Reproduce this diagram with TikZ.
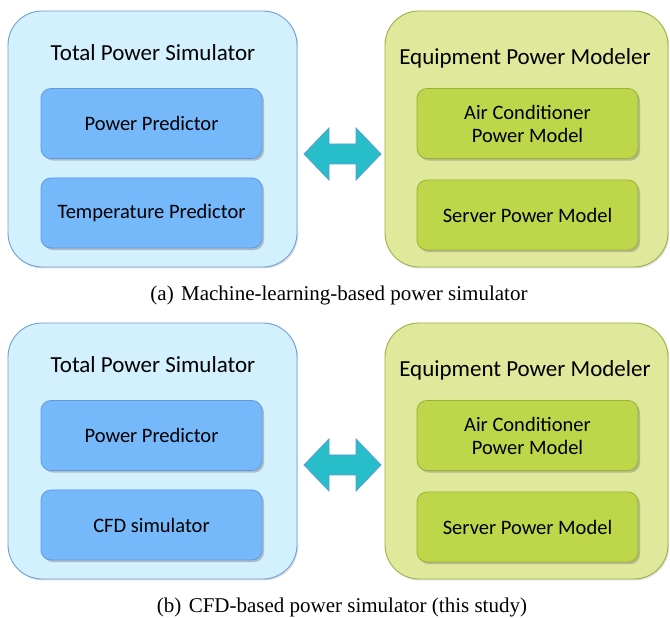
\documentclass[tikz,border=0pt]{standalone}
\usepackage{fontspec}
\setmainfont{Liberation Serif}
\newfontfamily\boxfont{Carlito}
\usetikzlibrary{shadows}
\definecolor{outerBfill}{HTML}{D2F0FD}
\definecolor{outerBdraw}{HTML}{6E9FD6}
\definecolor{innerBfill}{HTML}{75B9FB}
\definecolor{innerBdraw}{HTML}{5E9CE0}
\definecolor{outerGfill}{HTML}{E0E89B}
\definecolor{outerGdraw}{HTML}{9BB345}
\definecolor{innerGfill}{HTML}{BED64A}
\definecolor{innerGdraw}{HTML}{99B234}
\definecolor{arrfill}{HTML}{27BECA}
\definecolor{arrdraw}{HTML}{5B9BD5}
\tikzset{
  outerbox/.style={rounded corners=34pt, line width=0.9pt, minimum width=289pt, minimum height=256pt, inner sep=0pt,
    drop shadow={shadow xshift=1.2pt, shadow yshift=-1.5pt, opacity=0.25}},
  outerblue/.style={outerbox, fill=outerBfill, draw=outerBdraw},
  outergreen/.style={outerbox, fill=outerGfill, draw=outerGdraw, minimum width=283pt},
  innerbox/.style={rounded corners=10pt, line width=0.8pt, minimum width=221pt, minimum height=70pt, inner sep=0pt,
    align=center, font=\boxfont\fontsize{20.5}{23}\selectfont,
    drop shadow={shadow xshift=2pt, shadow yshift=-2.2pt, opacity=0.45}},
  innerblue/.style={innerbox, fill=innerBfill, draw=innerBdraw},
  innergreen/.style={innerbox, fill=innerGfill, draw=innerGdraw},
  titletext/.style={font=\boxfont\fontsize{23}{27}\selectfont, inner sep=0pt},
  captext/.style={font=\fontsize{21}{24}\selectfont, inner sep=0pt},
  blockarrow/.style={fill=arrfill, draw=arrdraw, line width=0.8pt, line join=miter}
}
\begin{document}
\begin{tikzpicture}[x=1pt,y=1pt]
\useasboundingbox (0,0) rectangle (670,618);
% ---------- panel (a)
\node[outerblue] (aL) at (152.5,479) {};
\node[titletext] (aLt) at (153,565) {Total Power Simulator};
\node[innerblue] (aL1) at (151.5,494.5) {Power Predictor};
\node[innerblue] (aL2) at (151.5,405) {Temperature Predictor};
\node[outergreen] (aR) at (526.5,479) {};
\node[titletext] (aRt) at (525,560) {Equipment Power Modeler};
\node[innergreen] (aR1) at (527.5,494.5) {Air Conditioner\\Power Model};
\node[innergreen] (aR2) at (527.5,403) {Server Power Model};
\coordinate (aA) at (342.5,464);
\draw[blockarrow, shift={(aA)}] (-38.5,0) -- (-13.5,26) -- (-13.5,10) -- (13.5,10) -- (13.5,26)
  -- (38.5,0) -- (13.5,-26) -- (13.5,-10) -- (-13.5,-10) -- (-13.5,-26) -- cycle;
\node[captext] (aC) at (339,323) {(a)\hspace{0.35em}Machine-learning-based power simulator};
% ---------- panel (b)
\node[outerblue] (bL) at (152.5,167) {};
\node[titletext] (bLt) at (153,253) {Total Power Simulator};
\node[innerblue] (bL1) at (151.5,182.5) {Power Predictor};
\node[innerblue] (bL2) at (151.5,93) {CFD simulator};
\node[outergreen] (bR) at (526.5,167) {};
\node[titletext] (bRt) at (525,248) {Equipment Power Modeler};
\node[innergreen] (bR1) at (527.5,182.5) {Air Conditioner\\Power Model};
\node[innergreen] (bR2) at (527.5,91) {Server Power Model};
\coordinate (bA) at (342.5,153);
\draw[blockarrow, shift={(bA)}] (-38.5,0) -- (-13.5,26) -- (-13.5,10) -- (13.5,10) -- (13.5,26)
  -- (38.5,0) -- (13.5,-26) -- (13.5,-10) -- (-13.5,-10) -- (-13.5,-26) -- cycle;
\node[captext] (bC) at (342,11) {(b)\hspace{0.35em}CFD-based power simulator (this study)};
\end{tikzpicture}
\end{document}
